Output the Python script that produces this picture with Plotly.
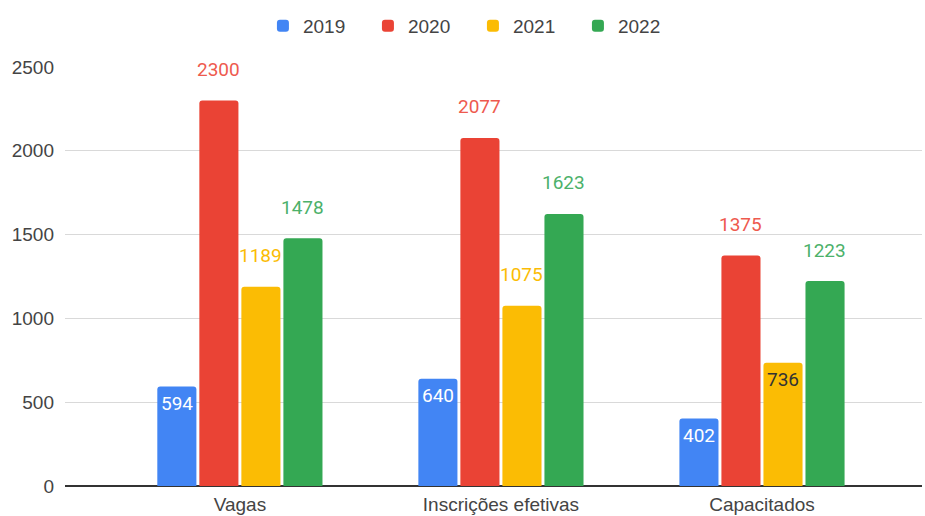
import plotly.graph_objects as go

categories = ["Vagas", "Inscrições efetivas", "Capacitados"]
years = ["2019", "2020", "2021", "2022"]
v2019 = [594, 640, 402]
v2020 = [2300, 2077, 1375]
v2021 = [1189, 1075, 736]
v2022 = [1478, 1623, 1223]
series_values = [v2019, v2020, v2021, v2022]
colors = ["#4285f4", "#ea4335", "#fbbc04", "#34a853"]
label_colors = ["#ffffff", "#ee5a4e", "#fbbc04", "#4cb16a"]
# label placement per series/point: "in" = inside near top, "out" = above bar
placement = [["in", "in", "in"], ["out", "out", "out"], ["out", "out", "in"], ["out", "out", "out"]]
y_ticks = [0, 500, 1000, 1500, 2000, 2500]

fig = go.Figure()
for i, (yr, vals) in enumerate(zip(years, series_values)):
    fig.add_trace(go.Bar(name=yr, x=categories, y=vals, marker_color=colors[i],
                         marker_line_width=0, hoverinfo="x+y"))

# data labels
slot_px = 42
for i, vals in enumerate(series_values):
    off = (i - 1.5) * slot_px
    for j, v in enumerate(vals):
        pl = placement[i][j]
        if pl == "in":
            col = "#ffffff" if i == 0 else "#333333"
            fig.add_annotation(x=categories[j], y=v, xshift=off, yshift=-17, yanchor="middle",
                               text=str(v), showarrow=False,
                               font=dict(family="Roboto, Arial", size=19, color=col))
        else:
            fig.add_annotation(x=categories[j], y=v, xshift=off, yshift=31, yanchor="middle",
                               text=str(v), showarrow=False,
                               font=dict(family="Roboto, Arial", size=19, color=label_colors[i]))

fig.update_layout(
    width=925, height=516,
    margin=dict(l=65, r=3, t=67, b=30, autoexpand=False),
    paper_bgcolor="white", plot_bgcolor="white",
    barmode="group", bargap=0.356, bargroupgap=0.07,
    barcornerradius=3,
    font=dict(family="Liberation Sans, Arial", size=19, color="#444444"),
    showlegend=True,
    legend=dict(orientation="h", x=0.476, xanchor="center", y=1.098, yanchor="middle",
                font=dict(size=19, color="#444444"), entrywidth=60, entrywidthmode="pixels",
                traceorder="normal"),
    xaxis=dict(range=[-0.670, 2.613], showgrid=False, ticks="", showline=False,
               automargin=False, ticklabelstandoff=5,
               tickfont=dict(size=19, color="#444444")),
    yaxis=dict(range=[0, 2500], tickvals=y_ticks, ticktext=[str(t) for t in y_ticks],
               showgrid=True, gridcolor="#d9d9d9", gridwidth=1,
               zeroline=True, zerolinecolor="#333333", zerolinewidth=2,
               ticks="", showline=False, ticklabelstandoff=10, automargin=False,
               tickfont=dict(size=19, color="#444444")),
)

fig.write_html("out.html", config={"displayModeBar": False},
               post_script="document.body.style.margin='0';document.body.style.overflow='hidden';")
